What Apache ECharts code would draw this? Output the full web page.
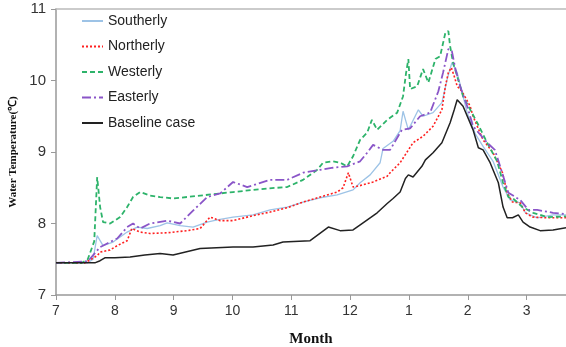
<!DOCTYPE html>
<html><head><meta charset="utf-8">
<script src="https://cdn.jsdelivr.net/npm/echarts@6/dist/echarts.min.js"></script>
<style>html,body{margin:0;padding:0;background:#fff}#c{width:566px;height:347px}</style>
</head><body><div id="c"></div>
<script>
// x values: months elapsed since the start of July (0 = "7", 6 = "1")
var monthTicks = ['7','8','9','10','11','12','1','2','3'];
var seriesNames = ['Southerly','Northerly','Westerly','Easterly','Baseline case'];

var southX = [0,0.54,0.63,0.70,0.80,0.97,1.21,1.38,1.55,1.77,1.89,2.11,2.33,2.57,2.74,3.01,3.35,3.64,3.93,4.20,4.49,4.78,5.05,5.17,5.34,5.51,5.56,5.73,5.85,5.90,5.99,6.16,6.24,6.41,6.56,6.65,6.73,6.82,6.92,6.99,7.13,7.26,7.43,7.60,7.72,7.89,7.98,8.18,8.45,8.67];
var southT = [7.45,7.45,7.50,7.83,7.69,7.74,7.88,7.95,7.93,7.97,8.01,7.97,7.95,8.02,8.05,8.09,8.12,8.19,8.23,8.30,8.36,8.40,8.47,8.57,8.68,8.85,9.05,9.15,9.30,9.57,9.31,9.59,9.50,9.55,9.69,10.02,10.25,10.11,9.78,9.55,9.25,9.08,8.87,8.51,8.33,8.29,8.15,8.08,8.12,8.12];

var northX = [0,0.49,0.70,0.75,0.92,1.04,1.21,1.29,1.43,1.60,1.89,2.23,2.45,2.62,2.79,3.01,3.35,3.64,3.93,4.20,4.49,4.78,4.88,4.97,5.00,5.05,5.17,5.39,5.63,5.68,5.85,6.07,6.24,6.41,6.56,6.62,6.67,6.72,6.77,6.82,6.90,7.04,7.09,7.26,7.43,7.59,7.67,7.76,7.89,7.98,8.10,8.35,8.67];
var northT = [7.45,7.45,7.55,7.60,7.63,7.69,7.76,7.93,7.88,7.86,7.87,7.90,7.93,8.09,8.04,8.04,8.11,8.16,8.22,8.30,8.37,8.44,8.50,8.71,8.72,8.51,8.53,8.58,8.66,8.71,8.85,9.13,9.22,9.36,9.59,9.92,10.11,10.18,10.06,9.92,9.85,9.64,9.50,9.17,8.99,8.71,8.43,8.30,8.29,8.15,8.09,8.08,8.08];

var westX = [0,0.44,0.54,0.65,0.70,0.75,0.80,0.92,1.09,1.21,1.31,1.43,1.60,1.77,1.99,2.45,3.01,3.59,3.93,4.20,4.44,4.54,4.71,4.83,4.95,5.05,5.17,5.29,5.37,5.46,5.63,5.80,5.90,5.95,5.99,6.02,6.14,6.24,6.33,6.45,6.53,6.62,6.67,6.70,6.75,6.82,6.92,7.16,7.33,7.50,7.60,7.69,7.77,7.93,8.11,8.35,8.67];
var westT = [7.45,7.45,7.50,7.75,8.65,8.23,8.02,8.00,8.09,8.23,8.37,8.44,8.39,8.37,8.35,8.39,8.44,8.49,8.51,8.61,8.75,8.85,8.87,8.85,8.80,8.94,9.17,9.27,9.45,9.31,9.45,9.55,9.78,10.10,10.30,9.88,9.92,10.16,9.97,10.30,10.34,10.67,10.69,10.48,10.25,10.06,9.78,9.41,9.13,8.87,8.57,8.37,8.35,8.23,8.15,8.09,8.10];

var eastX = [0,0.54,0.75,0.87,1.04,1.21,1.31,1.43,1.60,1.89,2.11,2.33,2.57,2.79,3.01,3.25,3.64,3.93,4.20,4.49,4.71,4.95,5.17,5.29,5.39,5.56,5.68,5.88,6.02,6.19,6.36,6.50,6.58,6.67,6.73,6.79,6.87,6.99,7.09,7.33,7.46,7.55,7.69,7.81,7.89,8.03,8.18,8.45,8.67];
var eastT = [7.45,7.47,7.67,7.72,7.79,7.95,8.00,7.93,8.00,8.04,8.00,8.18,8.37,8.42,8.58,8.51,8.61,8.61,8.71,8.75,8.78,8.80,8.87,8.99,9.10,9.03,9.03,9.31,9.33,9.50,9.55,9.85,10.11,10.44,10.41,10.16,9.92,9.64,9.36,9.13,9.03,8.80,8.43,8.37,8.33,8.19,8.19,8.15,8.13];

var baseX = [0,0.66,0.75,0.83,1.00,1.26,1.51,1.77,1.99,2.45,3.01,3.35,3.69,3.86,4.32,4.63,4.83,5.05,5.22,5.46,5.63,5.73,5.85,5.94,5.99,6.07,6.22,6.28,6.41,6.56,6.70,6.77,6.82,6.92,7.09,7.18,7.26,7.38,7.52,7.60,7.67,7.76,7.86,7.94,8.06,8.23,8.45,8.67];
var baseT = [7.45,7.45,7.48,7.52,7.52,7.53,7.56,7.58,7.56,7.65,7.67,7.67,7.70,7.74,7.76,7.95,7.90,7.91,8.01,8.15,8.28,8.35,8.44,8.63,8.68,8.65,8.80,8.89,8.99,9.13,9.41,9.59,9.73,9.64,9.31,9.06,9.03,8.85,8.57,8.23,8.08,8.08,8.12,8.02,7.95,7.90,7.91,7.94];

function zip(xs, ys){ return xs.map(function(x,i){ return [x, ys[i]]; }); }

var chart = echarts.init(document.getElementById('c'), null, {renderer:'canvas'});
var sans = 'Liberation Sans';
var serif = 'Liberation Serif';
function mk(name, xs, ys, color, width, type){
  return {name:name, type:'line', data:zip(xs,ys), symbol:'none', showSymbol:false, smooth:false,
    lineStyle:{color:color, width:width, type:type}, itemStyle:{color:color}, z:2};
}
chart.setOption({
  animation:false,
  grid:{left:56, right:0, top:9, bottom:52, containLabel:false, outerBoundsMode:'none'},
  legend:{orient:'vertical', left:76, top:9, itemWidth:21, itemHeight:13, itemGap:11.5,
    itemStyle:{opacity:0},
    textStyle:{fontFamily:sans, fontSize:14, color:'#222'}, data:seriesNames},
  xAxis:[{type:'value', min:0, max:8.67, interval:1,
    name:'Month', nameLocation:'middle', nameGap:37,
    nameTextStyle:{fontFamily:serif, fontWeight:'bold', fontSize:15, color:'#111'},
    axisLine:{lineStyle:{color:'#999', width:1.5}},
    axisTick:{show:true, length:5, lineStyle:{color:'#999'}},
    axisLabel:{fontFamily:sans, fontSize:14, color:'#333', margin:9, showMaxLabel:false,
      formatter:function(v){ var i=Math.round(v); return monthTicks[i]!==undefined? monthTicks[i]:''; }},
    splitLine:{show:false}},
    {type:'value', position:'top', min:0, max:8.67, axisLine:{show:true, onZero:false, lineStyle:{color:'#bbb', width:1.5}},
     axisTick:{show:false}, axisLabel:{show:false}, splitLine:{show:false}}],
  yAxis:{type:'value', min:7, max:11, interval:1,
    name:'Water Temperature(\u2103)', nameLocation:'middle', nameGap:37,
    nameTextStyle:{fontFamily:serif, fontWeight:'bold', fontSize:11, color:'#111'},
    axisLine:{show:true, lineStyle:{color:'#999', width:1.5}},
    axisTick:{show:true, length:5, lineStyle:{color:'#999'}},
    axisLabel:{fontFamily:sans, fontSize:15, color:'#333', margin:10},
    splitLine:{show:false}},
  series:[
    mk('Southerly', southX, southT, '#9DC3E6', 1.3, 'solid'),
    mk('Northerly', northX, northT, '#FF2020', 1.6, [2,2]),
    mk('Westerly', westX, westT, '#2DB36A', 1.8, [5,3]),
    mk('Easterly', eastX, eastT, '#8A55C8', 1.8, [9,3,2,3]),
    mk('Baseline case', baseX, baseT, '#222222', 1.5, 'solid')
  ]
});
</script></body></html>
